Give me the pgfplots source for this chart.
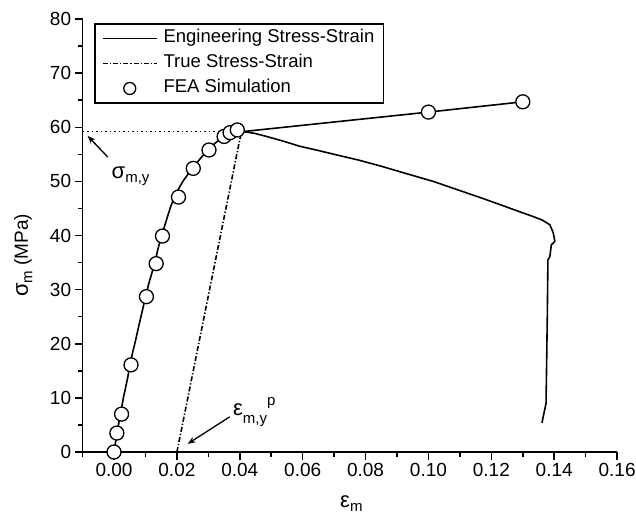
\documentclass[border=0pt]{standalone}
\usepackage{pgfplots}
\pgfplotsset{compat=1.18}
\usepackage{fontspec}
\setmainfont{Liberation Sans}
\usetikzlibrary{arrows.meta}

\newcommand{\gk}[1]{{\fontsize{22bp}{22bp}\selectfont #1}}
\newcommand{\sub}[1]{\raisebox{-4.5bp}{\fontsize{15bp}{15bp}\selectfont #1}}

\begin{document}
\begin{tikzpicture}
\begin{axis}[
  at={(0,0)}, anchor=south west,
  scale only axis, width=534.5bp, height=433bp,
  xmin=-0.01, xmax=0.16, ymin=0, ymax=80,
  axis lines=left,
  axis line style={-, line width=1.7bp},
  clip=false,
  tick align=outside,
  major tick length=8bp, minor tick length=4.5bp,
  every tick/.style={black, line width=1.5bp},
  xtick={0,0.02,...,0.16},
  minor xtick={-0.01,0.01,0.03,0.05,0.07,0.09,0.11,0.13,0.15},
  ytick={0,10,...,80},
  minor ytick={5,15,...,75},
  xticklabel style={/pgf/number format/.cd, fixed, fixed zerofill, precision=2, assume math mode=true},
  yticklabel style={/pgf/number format/assume math mode=true},
  tick label style={font=\fontsize{19bp}{21bp}\selectfont},
  legend cell align=left,
  legend image code/.code={\draw[#1] (0bp,0bp) -- (54bp,0bp);},
  legend style={
    at={(axis description cs:0.0219,0.990)}, anchor=north west,
    draw=black, line width=1.3bp,
    font=\fontsize{18.5bp}{22bp}\selectfont,
    row sep=0pt, inner xsep=7bp, inner ysep=2bp,
    nodes={text height=14bp, text depth=5bp, inner ysep=3bp},
    /tikz/every odd column/.append style={column sep=4bp},
  },
]

% legend samples
\addlegendimage{black, line width=1.6bp}
\addlegendentry{Engineering Stress-Strain}
\addlegendimage{black, line width=1.6bp, dash pattern=on 5bp off 2bp on 1.3bp off 2bp}
\addlegendentry{True Stress-Strain}
\addlegendimage{legend image code/.code={\draw[black, line width=1.3bp, fill=white] (27bp,0bp) circle[radius=6bp];}}
\addlegendentry{FEA Simulation}

% engineering stress-strain curve
\addplot[black, line width=1.6bp, forget plot] coordinates {
(0,0) (0.0006,2.2) (0.0012,4.4) (0.002,6.8) (0.003,10.1) (0.0036,11.7) (0.0044,13.9)
(0.005,16.0) (0.006,18.6) (0.0068,20.5) (0.0078,23.1) (0.0088,25.6) (0.010,28.6)
(0.011,31.0) (0.012,33.0) (0.013,35.0) (0.014,37.6) (0.015,39.7) (0.016,41.6)
(0.017,43.5) (0.018,45.3) (0.019,46.8) (0.020,48.1) (0.022,50.1) (0.025,52.5)
(0.028,54.6) (0.030,55.8) (0.032,57.0) (0.034,57.9) (0.036,58.7) (0.038,59.1)
(0.041,59.2)
(0.0445,58.9) (0.0485,58.3) (0.054,57.4) (0.059,56.5) (0.065,55.7) (0.070,55.0)
(0.078,53.9) (0.085,52.8) (0.092,51.6) (0.1015,50.0) (0.110,48.3) (0.117,46.9)
(0.1228,45.7) (0.128,44.6) (0.1333,43.5) (0.136,42.9) (0.1386,42.0) (0.1397,40.5)
(0.1402,38.9) (0.1391,38.3) (0.1386,36.1) (0.1380,35.5) (0.1378,25.0)
(0.1374,9.0) (0.1361,5.4)
};

% upper branch through the last simulation points
\addplot[black, line width=1.6bp, forget plot] coordinates {
(0.041,59.2) (0.100,62.8) (0.130,64.7)
};

% plastic strain offset line
\addplot[black, line width=1.6bp, dash pattern=on 5bp off 2bp on 1.3bp off 2bp, forget plot] coordinates {
(0.0200,0) (0.0405,59.2)
};

% yield stress level
\addplot[black, line width=1.6bp, dash pattern=on 1.5bp off 3bp, forget plot] coordinates {
(-0.01,59.2) (0.0375,59.2)
};

% FEA simulation points
\addplot[only marks, mark=*, mark size=7bp,
  mark options={fill=white, draw=black, line width=1.3bp}, forget plot] coordinates {
(0,0) (0.0009,3.5) (0.0024,7.0) (0.0054,16.1) (0.0103,28.7) (0.0134,34.8)
(0.0154,39.9) (0.0205,47.1) (0.0252,52.4) (0.0302,55.8) (0.035,58.3)
(0.0369,59.0) (0.0392,59.5) (0.100,62.8) (0.130,64.7)
};

% annotations
\draw[-{Stealth[length=8bp,width=6bp]}, line width=1.3bp]
  (axis cs:-0.0020,54.5) -- (axis cs:-0.0084,58.4);
\node[anchor=base west, inner sep=0pt] at (axis cs:-0.0008,50.6) {\gk{σ}\sub{m,y}};

\draw[-{Stealth[length=8bp,width=6bp]}, line width=1.3bp]
  (axis cs:0.0368,6.5) -- (axis cs:0.0234,1.5);
\node[anchor=base west, inner sep=0pt] at (axis cs:0.0378,6.8)
  {\gk{ε}\raisebox{-8bp}{\fontsize{15bp}{15bp}\selectfont m,y}\raisebox{10bp}{\fontsize{15bp}{15bp}\selectfont p}};

% axis titles
\node[anchor=base west, inner sep=0pt] at (axis description cs:0.4816,-0.128) {\gk{ε}\sub{m}};
\node[anchor=base west, inner sep=0pt, rotate=90] at (axis description cs:-0.1022,0.358)
  {\gk{σ}\sub{m}\fontsize{19bp}{21bp}\selectfont\ (MPa)};

\end{axis}
\pgfresetboundingbox
\path[use as bounding box] (-82.6bp,-63bp) rectangle (553.4bp,452bp);
\end{tikzpicture}
\end{document}
